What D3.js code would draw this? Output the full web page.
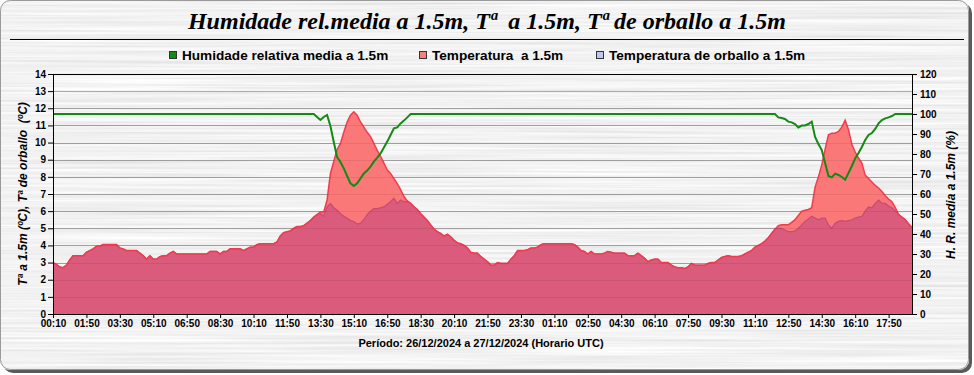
<!DOCTYPE html>
<html>
<head>
<meta charset="utf-8">
<script src="https://cdn.jsdelivr.net/npm/d3@7"></script>
<style>
body { margin: 0; background: #fff; }
svg { display: block; }
text { white-space: pre; }
</style>
</head>
<body>
<div id="chart"></div>
<script>
// etiquetas do eixo X (unha cada 10 rexistros de 10 min)
var tickLabels = ["00:10","01:50","03:30","05:10","06:50","08:30","10:10","11:50","13:30","15:10","16:50","18:30","20:10",
  "21:50","23:30","01:10","02:50","04:30","06:10","07:50","09:30","11:10","12:50","14:30","16:10","17:50"];

// temperatura a 1.5m (ºC)
var temperatura = [
  3.0, 2.9, 2.75, 2.7, 2.85, 3.15, 3.4, 3.4, 3.4, 3.4,
  3.6, 3.7, 3.8, 3.95, 3.95, 4.05, 4.05, 4.05, 4.05, 4.05,
  3.85, 3.8, 3.7, 3.7, 3.7, 3.7, 3.55, 3.4, 3.2, 3.4,
  3.2, 3.2, 3.35, 3.4, 3.4, 3.55, 3.65, 3.5, 3.5, 3.5,
  3.5, 3.5, 3.5, 3.5, 3.5, 3.5, 3.5, 3.65, 3.65, 3.65,
  3.5, 3.65, 3.65, 3.8, 3.8, 3.8, 3.8, 3.7, 3.8, 3.9,
  3.9, 4.05, 4.1, 4.1, 4.1, 4.1, 4.1, 4.2, 4.55, 4.75,
  4.8, 4.85, 5.0, 5.1, 5.1, 5.15, 5.3, 5.45, 5.65, 5.8,
  5.95, 5.95, 6.65, 8.2, 8.9, 9.6, 9.95, 10.6, 11.2, 11.6,
  11.8, 11.6, 11.2, 10.9, 10.6, 10.35, 9.95, 9.55, 9.2, 8.8,
  8.4, 8.2, 7.9, 7.6, 7.25, 6.85, 6.6, 6.45, 6.25, 6.1,
  5.85, 5.65, 5.45, 5.2, 4.95, 4.8, 4.7, 4.55, 4.65, 4.5,
  4.3, 4.15, 4.1, 4.0, 3.85, 3.6, 3.55, 3.55, 3.35, 3.2,
  3.05, 2.85, 2.85, 3.0, 2.95, 2.95, 2.95, 3.2, 3.4, 3.7,
  3.7, 3.7, 3.75, 3.85, 3.85, 3.9, 4.05, 4.1, 4.1, 4.1,
  4.1, 4.1, 4.1, 4.1, 4.1, 4.1, 4.05, 3.9, 3.7, 3.65,
  3.5, 3.65, 3.5, 3.5, 3.5, 3.55, 3.65, 3.6, 3.55, 3.55,
  3.55, 3.55, 3.4, 3.4, 3.4, 3.55, 3.4, 3.25, 3.05, 3.15,
  3.2, 3.2, 3.0, 3.0, 3.0, 2.85, 2.75, 2.7, 2.7, 2.65,
  2.75, 2.95, 2.85, 2.85, 2.85, 2.85, 2.95, 3.0, 3.0, 3.15,
  3.3, 3.35, 3.4, 3.35, 3.35, 3.35, 3.4, 3.5, 3.6, 3.7,
  3.9, 4.0, 4.1, 4.25, 4.45, 4.7, 4.95, 5.15, 5.2, 5.2,
  5.2, 5.35, 5.5, 5.75, 6.0, 6.05, 6.1, 6.2, 7.4, 8.0,
  8.7, 9.6, 10.45, 10.55, 10.55, 10.65, 10.9, 11.3, 10.75, 9.9,
  9.45, 9.1, 8.8, 8.1, 7.9, 7.7, 7.5, 7.35, 7.15, 6.9,
  6.7, 6.55, 6.2, 5.8, 5.65, 5.5, 5.25, 5.05
];

// temperatura de orballo a 1.5m (ºC)
var orballo = [
  3.0, 2.9, 2.75, 2.7, 2.85, 3.15, 3.4, 3.4, 3.4, 3.4,
  3.6, 3.7, 3.8, 3.95, 3.95, 4.05, 4.05, 4.05, 4.05, 4.05,
  3.85, 3.8, 3.7, 3.7, 3.7, 3.7, 3.55, 3.4, 3.2, 3.4,
  3.2, 3.2, 3.35, 3.4, 3.4, 3.55, 3.65, 3.5, 3.5, 3.5,
  3.5, 3.5, 3.5, 3.5, 3.5, 3.5, 3.5, 3.65, 3.65, 3.65,
  3.5, 3.65, 3.65, 3.8, 3.8, 3.8, 3.8, 3.7, 3.8, 3.9,
  3.9, 4.05, 4.1, 4.1, 4.1, 4.1, 4.1, 4.2, 4.55, 4.75,
  4.8, 4.85, 5.0, 5.1, 5.1, 5.15, 5.3, 5.45, 5.65, 5.8,
  5.85, 5.7, 6.25, 6.45, 6.2, 6.05, 5.85, 5.7, 5.6, 5.45,
  5.4, 5.25, 5.3, 5.5, 5.8, 6.0, 6.15, 6.15, 6.2, 6.25,
  6.4, 6.55, 6.75, 6.45, 6.65, 6.55, 6.55, 6.45, 6.25, 6.1,
  5.85, 5.65, 5.45, 5.2, 4.95, 4.8, 4.7, 4.55, 4.65, 4.5,
  4.3, 4.15, 4.1, 4.0, 3.85, 3.6, 3.55, 3.55, 3.35, 3.2,
  3.05, 2.85, 2.85, 3.0, 2.95, 2.95, 2.95, 3.2, 3.4, 3.7,
  3.7, 3.7, 3.75, 3.85, 3.85, 3.9, 4.05, 4.1, 4.1, 4.1,
  4.1, 4.1, 4.1, 4.1, 4.1, 4.1, 4.05, 3.9, 3.7, 3.65,
  3.5, 3.65, 3.5, 3.5, 3.5, 3.55, 3.65, 3.6, 3.55, 3.55,
  3.55, 3.55, 3.4, 3.4, 3.4, 3.55, 3.4, 3.25, 3.05, 3.15,
  3.2, 3.2, 3.0, 3.0, 3.0, 2.85, 2.75, 2.7, 2.7, 2.65,
  2.75, 2.95, 2.85, 2.85, 2.85, 2.85, 2.95, 3.0, 3.0, 3.15,
  3.3, 3.35, 3.4, 3.35, 3.35, 3.35, 3.4, 3.5, 3.6, 3.7,
  3.9, 4.0, 4.1, 4.25, 4.45, 4.7, 4.95, 5.0, 5.0, 4.9,
  4.8, 4.8, 4.85, 5.0, 5.2, 5.4, 5.55, 5.7, 5.6, 5.5,
  5.6, 5.6, 5.2, 5.0, 5.3, 5.4, 5.45, 5.4, 5.45, 5.5,
  5.6, 5.65, 5.7, 6.0, 6.25, 6.2, 6.45, 6.65, 6.45, 6.45,
  6.3, 6.2, 6.0, 5.8, 5.65, 5.5, 5.25, 5.05
];

// humidade relativa media a 1.5m (%)
var humidade = [
  100, 100, 100, 100, 100, 100, 100, 100, 100, 100,
  100, 100, 100, 100, 100, 100, 100, 100, 100, 100,
  100, 100, 100, 100, 100, 100, 100, 100, 100, 100,
  100, 100, 100, 100, 100, 100, 100, 100, 100, 100,
  100, 100, 100, 100, 100, 100, 100, 100, 100, 100,
  100, 100, 100, 100, 100, 100, 100, 100, 100, 100,
  100, 100, 100, 100, 100, 100, 100, 100, 100, 100,
  100, 100, 100, 100, 100, 100, 100, 100, 100, 98.5,
  97, 98.5, 99.5, 94, 86, 78.5, 76, 72.8, 69, 65.3,
  64, 65.3, 67.8, 70.3, 71.7, 73.7, 76.2, 78.2, 80.3, 83.2,
  86.2, 89.5, 92.8, 93.3, 95.3, 96.7, 98.3, 100, 100, 100,
  100, 100, 100, 100, 100, 100, 100, 100, 100, 100,
  100, 100, 100, 100, 100, 100, 100, 100, 100, 100,
  100, 100, 100, 100, 100, 100, 100, 100, 100, 100,
  100, 100, 100, 100, 100, 100, 100, 100, 100, 100,
  100, 100, 100, 100, 100, 100, 100, 100, 100, 100,
  100, 100, 100, 100, 100, 100, 100, 100, 100, 100,
  100, 100, 100, 100, 100, 100, 100, 100, 100, 100,
  100, 100, 100, 100, 100, 100, 100, 100, 100, 100,
  100, 100, 100, 100, 100, 100, 100, 100, 100, 100,
  100, 100, 100, 100, 100, 100, 100, 100, 100, 100,
  100, 100, 100, 100, 100, 100, 100, 98.3, 98, 97.5,
  96.2, 95.8, 95, 93.2, 94.2, 94.3, 95, 96.2, 88.5, 85,
  82, 75.5, 69, 68.3, 70.2, 69.5, 68.5, 67.2, 70.5, 74,
  77.8, 80.5, 83.5, 87, 89.5, 90.5, 92.5, 95.3, 97, 97.8,
  98.3, 99, 100, 100, 100, 100, 100, 100
];

var width = 974,
    height = 375;
var plotLeft = 53, plotRight = 912, plotTop = 74, plotBottom = 314;

var svg = d3.select("#chart").append("svg")
    .attr("width", width)
    .attr("height", height);

var defs = svg.append("defs");
// textura de metal cepillado
var f = defs.append("filter").attr("id", "metal")
    .attr("x", 0).attr("y", 0).attr("width", "100%").attr("height", "100%");
f.append("feTurbulence")
    .attr("type", "fractalNoise")
    .attr("baseFrequency", "0.004 0.4")
    .attr("numOctaves", 3)
    .attr("seed", 5);
f.append("feColorMatrix")
    .attr("type", "matrix")
    .attr("values", "0.22 0.22 0 0 0.67  0.22 0.22 0 0 0.67  0.22 0.22 0 0 0.67  0 0 0 0 1");
defs.append("clipPath").attr("id", "frameClip")
    .append("rect").attr("x", 0).attr("y", 0).attr("width", 969).attr("height", 370).attr("rx", 10);

// marco
svg.append("rect")
    .attr("x", 3).attr("y", 3).attr("width", 969).attr("height", 370).attr("rx", 10)
    .attr("fill", "#5a5a5a");
svg.append("rect")
    .attr("x", 0).attr("y", 0).attr("width", 969).attr("height", 370).attr("rx", 10)
    .attr("fill", "#e6e6e6");
svg.append("rect")
    .attr("clip-path", "url(#frameClip)")
    .attr("x", 0).attr("y", 0).attr("width", 969).attr("height", 370)
    .attr("filter", "url(#metal)");
svg.append("rect")
    .attr("x", 0.5).attr("y", 0.5).attr("width", 968).attr("height", 369).attr("rx", 10)
    .attr("fill", "none").attr("stroke", "#9a9a9a");

// titulo
svg.append("text")
    .attr("x", 487).attr("y", 29)
    .attr("text-anchor", "middle")
    .style("font-family", "'Liberation Serif', 'Times New Roman', serif")
    .style("font-weight", "bold").style("font-style", "italic")
    .style("font-size", "24px")
    .text("Humidade rel.media a 1.5m, Tª  a 1.5m, Tª de orballo a 1.5m");
svg.append("line")
    .attr("x1", 10).attr("x2", 964).attr("y1", 39.5).attr("y2", 39.5)
    .attr("stroke", "#000");

// lenda
var legend = [
  {label: "Humidade relativa media a 1.5m", color: "#138a13", x: 169},
  {label: "Temperatura  a 1.5m", color: "#f58080", x: 419},
  {label: "Temperatura de orballo a 1.5m", color: "#c4c4f2", x: 596}
];
var lg = svg.append("g").selectAll("g").data(legend).enter().append("g");
lg.append("rect")
    .attr("x", function (d) { return d.x + 0.5; }).attr("y", 51.5)
    .attr("width", 7).attr("height", 7)
    .attr("fill", function (d) { return d.color; })
    .attr("stroke", "#333");
lg.append("text")
    .attr("x", function (d) { return d.x + 13; }).attr("y", 60)
    .style("font-family", "'Liberation Sans', Arial, sans-serif")
    .style("font-weight", "bold").style("font-size", "13.6px")
    .text(function (d) { return d.label; });

// escalas
var x = d3.scaleLinear().domain([0, temperatura.length - 1]).range([plotLeft, plotRight]);
var yT = d3.scaleLinear().domain([0, 14]).range([plotBottom, plotTop]);
var yH = d3.scaleLinear().domain([0, 120]).range([plotBottom, plotTop]);

// grella
svg.append("g").selectAll("line")
    .data(yT.ticks(14).slice(1))
    .enter().append("line")
    .attr("x1", plotLeft).attr("x2", plotRight)
    .attr("y1", function (d) { return Math.round(yT(d)) + 0.5; })
    .attr("y2", function (d) { return Math.round(yT(d)) + 0.5; })
    .attr("stroke", "#ababab");

var areaT = d3.area()
    .x(function (d, i) { return x(i); })
    .y0(plotBottom)
    .y1(function (d) { return yT(d); });
var lineT = d3.line()
    .x(function (d, i) { return x(i); })
    .y(function (d) { return yT(d); });

svg.append("path").datum(temperatura)
    .attr("d", areaT)
    .attr("fill", "#fa7878");
svg.append("path").datum(orballo)
    .attr("d", areaT)
    .attr("fill", "#da5b7b");
svg.append("path").datum(orballo)
    .attr("d", lineT)
    .attr("fill", "none").attr("stroke", "#c84a76").attr("stroke-width", 1.2);
svg.append("path").datum(temperatura)
    .attr("d", lineT)
    .attr("fill", "none").attr("stroke", "#f23c4e").attr("stroke-width", 1.5);

// grella vista a traves das areas
svg.append("g").selectAll("line")
    .data(yT.ticks(14).slice(1, 13))
    .enter().append("line")
    .attr("x1", plotLeft).attr("x2", plotRight)
    .attr("y1", function (d) { return Math.round(yT(d)) + 0.5; })
    .attr("y2", function (d) { return Math.round(yT(d)) + 0.5; })
    .attr("stroke", "#000").attr("stroke-opacity", 0.07);

// humidade
svg.append("path").datum(humidade)
    .attr("d", d3.line()
        .x(function (d, i) { return x(i); })
        .y(function (d) { return yH(d); }))
    .attr("fill", "none")
    .attr("stroke", "#138a13")
    .attr("stroke-width", 2);

// eixos
function styleAxis(g) {
  g.select(".domain").attr("stroke", "#000");
  g.selectAll(".tick line").attr("stroke", "#000");
  g.selectAll("text")
      .attr("fill", "#000")
      .style("font-family", "'Liberation Sans', Arial, sans-serif")
      .style("font-weight", "bold").style("font-size", "10px");
}
svg.append("g")
    .attr("transform", "translate(" + plotLeft + ",0)")
    .call(d3.axisLeft(yT).ticks(14).tickSize(5).tickSizeOuter(0).tickPadding(2))
    .call(styleAxis);
svg.append("g")
    .attr("transform", "translate(" + plotRight + ",0)")
    .call(d3.axisRight(yH).ticks(12).tickSize(5).tickSizeOuter(0).tickPadding(3))
    .call(styleAxis);
svg.append("g")
    .attr("transform", "translate(0," + plotBottom + ")")
    .call(d3.axisBottom(x)
        .tickValues(tickLabels.map(function (t, k) { return k * 10; }))
        .tickFormat(function (d, k) { return tickLabels[k]; })
        .tickSize(4).tickSizeOuter(0).tickPadding(2))
    .call(styleAxis);
svg.append("line")
    .attr("x1", plotLeft).attr("x2", plotRight).attr("y1", plotTop + 0.5).attr("y2", plotTop + 0.5)
    .attr("stroke", "#000");

// titulos dos eixos
svg.append("text")
    .attr("transform", "translate(27,194) rotate(-90)")
    .attr("text-anchor", "middle")
    .style("font-family", "'Liberation Sans', Arial, sans-serif")
    .style("font-weight", "bold").style("font-style", "italic").style("font-size", "12px")
    .text("Tª a 1.5m (ºC), Tª de orballo  (ºC)");
svg.append("text")
    .attr("transform", "translate(955,195) rotate(-90)")
    .attr("text-anchor", "middle")
    .style("font-family", "'Liberation Sans', Arial, sans-serif")
    .style("font-weight", "bold").style("font-style", "italic").style("font-size", "12px")
    .text("H. R. media a 1.5m (%)");
svg.append("text")
    .attr("x", 481).attr("y", 347)
    .attr("text-anchor", "middle")
    .style("font-family", "'Liberation Sans', Arial, sans-serif")
    .style("font-weight", "bold").style("font-size", "11px")
    .text("Período: 26/12/2024 a 27/12/2024 (Horario UTC)");
</script>
</body>
</html>
